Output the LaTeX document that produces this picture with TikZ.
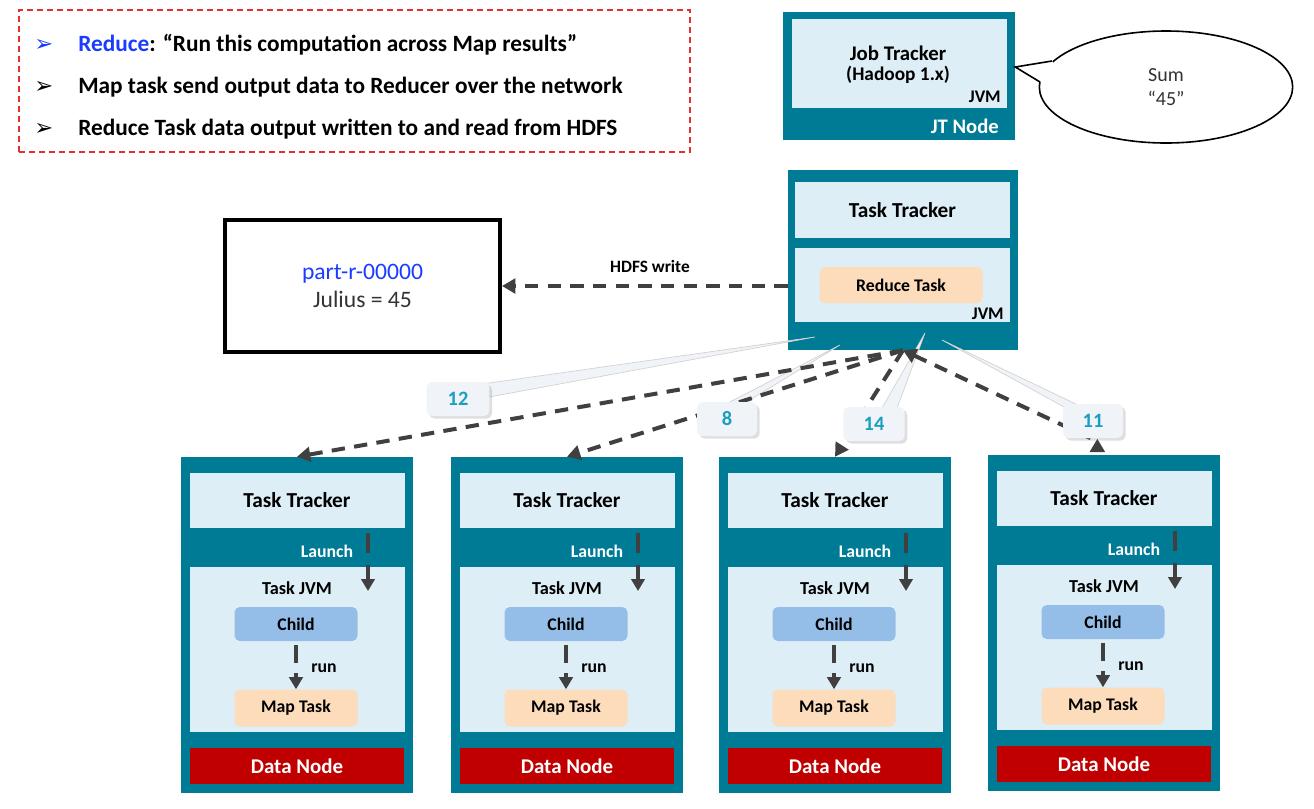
\documentclass[tikz,border=0pt]{standalone}
\usepackage{fontspec}
\setmainfont{Carlito}
\newfontfamily\sym{DejaVu Sans}
\usetikzlibrary{arrows.meta,shapes.geometric,shadows}
\definecolor{tealbg}{HTML}{007B96}
\definecolor{lightbg}{HTML}{DDEEF6}
\definecolor{orangebg}{HTML}{FDDCBC}
\definecolor{childbg}{HTML}{94BDE8}
\definecolor{dnred}{HTML}{C00000}
\definecolor{arrowgray}{HTML}{404040}
\definecolor{calloutbg}{HTML}{F0F3F7}
\definecolor{numblue}{HTML}{1A9FC0}
\definecolor{partblue}{HTML}{1A3CFF}
\definecolor{redline}{HTML}{E03030}
\definecolor{darktext}{HTML}{333333}
\begin{document}
\begin{tikzpicture}[x=0.75pt,y=-0.75pt,
  outer/.style={fill=tealbg, draw=none, minimum width=174pt, minimum height=252pt, inner sep=0pt},
  light/.style={fill=lightbg, draw=none, minimum width=161.25pt, inner sep=0pt},
  ttbox/.style={light, minimum height=41.25pt, font=\bfseries\fontsize{16}{19}\selectfont},
  jvmbox/.style={light, minimum height=123.75pt},
  childbox/.style={fill=childbg, rounded corners=4pt, minimum width=92.25pt, minimum height=25.5pt, inner sep=0pt, font=\bfseries\fontsize{13.3}{16}\selectfont},
  mapbox/.style={fill=orangebg, rounded corners=4pt, minimum width=92.25pt, minimum height=27.75pt, inner sep=0pt, font=\bfseries\fontsize{13.3}{16}\selectfont},
  datanode/.style={fill=dnred, minimum width=160.5pt, minimum height=27pt, inner sep=0pt, text=white, font=\bfseries\fontsize{15.7}{18}\selectfont},
  lbl/.style={inner sep=0pt, font=\bfseries\fontsize{13.3}{16}\selectfont},
  wlbl/.style={lbl, text=white},
  netarrow/.style={draw=arrowgray, line width=3pt, dash pattern=on 10pt off 7pt, -{Triangle[length=10pt,width=11pt]}},
  launcharrow/.style={draw=arrowgray, line width=3pt, dash pattern=on 15pt off 9pt, -{Triangle[length=9pt,width=10pt]}},
  callout/.style={fill=calloutbg, rounded corners=4pt, minimum width=46pt, minimum height=25.5pt, inner sep=0pt, text=numblue, font=\bfseries\fontsize{15.3}{18}\selectfont, drop shadow={opacity=0.25, shadow xshift=2pt, shadow yshift=-2pt}},
  tail/.style={fill=calloutbg, draw=black!18, line width=0.5pt},
  bullettext/.style={anchor=west, inner sep=0pt, font=\bfseries\fontsize{17.5}{20}\selectfont},
  bulletsym/.style={anchor=west, inner sep=0pt, font=\sym\fontsize{17}{20}\selectfont}
]
\useasboundingbox (0,0) rectangle (1314,808);

% notes box
\node[draw=redline, line width=1pt, dash pattern=on 4.5pt off 3pt, minimum width=503.25pt, minimum height=106.5pt, inner sep=0pt] (notes) at (354.5,81) {};
\node[bulletsym, text=partblue] (b1) at (34,45) {➢};
\node[bullettext] (t1) at (78,45) {\textcolor{partblue}{Reduce}: “Run this computation across Map results”};
\node[bulletsym] (b2) at (34,87) {➢};
\node[bullettext] (t2) at (78,87) {Map task send output data to Reducer over the network};
\node[bulletsym] (b3) at (34,129) {➢};
\node[bullettext] (t3) at (78,129) {Reduce Task data output written to and read from HDFS};

% Job tracker
\node[outer, minimum height=96pt] (jt) at (899,76) {};
\node[light, minimum height=66.75pt] (jtin) at (899.5,63.5) {};
\node[lbl, font=\bfseries\fontsize{15.6}{18}\selectfont] (jtt) at (898,53) {Job Tracker};
\node[lbl, font=\bfseries\fontsize{14.5}{17}\selectfont] (jth) at (898,75) {(Hadoop 1.x)};
\node[lbl, anchor=east] (jtjvm) at (1001,97) {JVM};
\node[wlbl, anchor=east, font=\bfseries\fontsize{15.5}{18}\selectfont] (jtnode) at (999,126) {JT Node};

% Sum bubble
\node[ellipse, draw, line width=1.2pt, fill=white, minimum width=190pt, minimum height=84pt, align=center, inner sep=0pt, text=darktext, font=\fontsize{15}{17.5}\selectfont] (sum) at (1166,87) {Sum\\“45”};
\coordinate (tp1) at (1052,61);
\coordinate (tp2) at (1040,82);
\coordinate (tip) at (jt.east |- 0,67);
\fill[white] (tp1) -- (tip) -- (tp2) -- (1062,74) -- cycle;
\draw[line width=1.2pt, line join=miter] (tp1) -- (tip) -- (tp2);

% Reduce task tracker
\node[outer, minimum width=172.5pt, minimum height=135pt] (red) at (903,260) {};
\node[ttbox, minimum height=42pt] (redtt) at (902.5,210) {Task Tracker};
\node[light, minimum height=55.5pt] (redjvm) at (902.5,285) {};
\node[mapbox, minimum width=122.25pt, minimum height=27pt] (redtask) at (901,285) {Reduce Task};
\node[lbl, anchor=east] (redjvml) at (1004,314) {JVM};

% part file
\node[draw, line width=3pt, minimum width=206.25pt, minimum height=99pt, align=center, inner sep=0pt, font=\fontsize{17.7}{20.5}\selectfont] (part) at (362.5,286) {\textcolor{partblue}{part-r-00000}\\\textcolor{darktext}{Julius = 45}};

% HDFS write
\draw[netarrow] (red.west |- part.east) -- (part.east);
\node[lbl, font=\bfseries\fontsize{13}{15}\selectfont] (hdfs) at (650,266) {HDFS write};

% map nodes
\foreach \i/\cx/\ty in {1/297/457, 2/567/457, 3/835/457, 4/1104/455} {
  \node[outer] (m\i) at (\cx,\ty+168) {};
  \node[ttbox] (tt\i) at (\cx,\ty+43) {Task Tracker};
  \node[jvmbox] (jvm\i) at (\cx,\ty+192.5) {};
  \node[wlbl] (la\i) at (\cx+30,\ty+94) {Launch};
  \node[lbl, font=\bfseries\fontsize{13.7}{16}\selectfont] (tj\i) at (\cx,\ty+131) {Task JVM};
  \node[childbox] (ch\i) at (\cx-1,\ty+167) {Child};
  \node[mapbox] (mt\i) at (\cx-1,\ty+251) {Map Task};
  \node[lbl] (run\i) at (\cx+27,\ty+211) {run};
  \node[datanode] (dn\i) at (\cx,\ty+309) {Data Node};
  \coordinate (ls\i) at (\cx+71,\ty+76);
  \coordinate (le\i) at (\cx+71,\ty+134);
  \draw[launcharrow] (ls\i) -- (le\i);
  \draw[launcharrow, dash pattern=on 13pt off 8pt] ([yshift=-3pt]ch\i.south) -- (mt\i.north);
}

% callout tails
\coordinate (c12a) at (482,384);
\coordinate (c12b) at (489,397);
\coordinate (c12t) at (815,337);
\coordinate (c8a) at (728,403);
\coordinate (c8b) at (745,403);
\coordinate (c8t) at (840,345);
\coordinate (c14a) at (882,408);
\coordinate (c14b) at (897,408);
\coordinate (c14t) at (925,333);
\coordinate (c11a) at (1066,408);
\coordinate (c11b) at (1080,406);
\coordinate (c11t) at (942,340);
\filldraw[tail] (c12a) -- (c12t) -- (c12b) -- cycle;
\filldraw[tail] (c8a) -- (c8t) -- (c8b) -- cycle;
\filldraw[tail] (c14a) -- (c14t) -- (c14b) -- cycle;
\filldraw[tail] (c11a) -- (c11t) -- (c11b) -- cycle;

% network arrows
\draw[netarrow] (red.south) -- (m1.north);
\draw[netarrow] (red.south) -- (m2.north);
\draw[netarrow] (red.south) -- (m3.north);
\draw[netarrow, {Triangle[length=10pt,width=11pt]}-{Triangle[length=10pt,width=11pt,reversed]}] (red.south) -- ([xshift=-5pt,yshift=10pt]m4.north) -- ([xshift=-5pt,yshift=2pt]m4.north);

% callouts
\node[callout, minimum width=47pt] (n12) at (458,399) {12};
\node[callout, minimum width=45pt] (n8) at (727,419) {8};
\node[callout] (n14) at (874,424) {14};
\node[callout, minimum width=45pt] (n11) at (1093,421) {11};
\end{tikzpicture}
\end{document}
